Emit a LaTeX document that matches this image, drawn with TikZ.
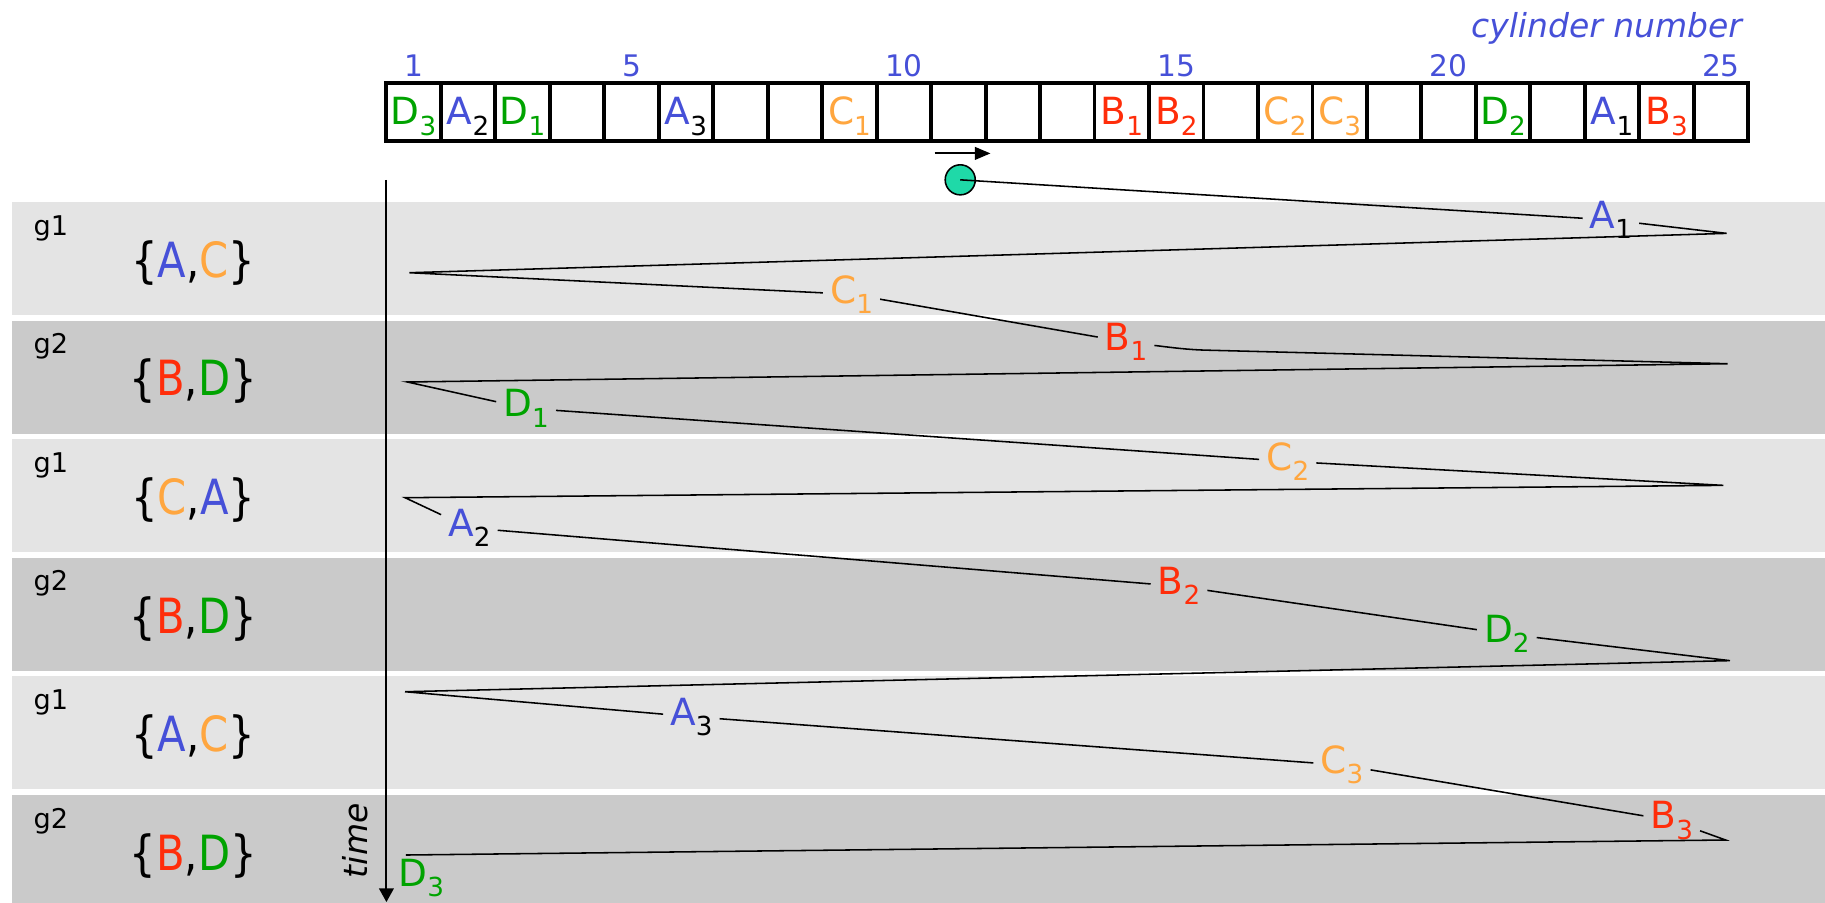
\documentclass[tikz,border=0pt]{standalone}
\usepackage{fontspec}
\setmainfont{DejaVu Sans}
\newfontfamily\narrowfont{DejaVu Sans}[FakeStretch=0.86]
\usetikzlibrary{positioning,arrows.meta}

\definecolor{bandlight}{HTML}{E4E4E4}
\definecolor{banddark}{HTML}{CACACA}
\definecolor{reqA}{HTML}{4650D8}
\definecolor{reqB}{HTML}{FF2D0A}
\definecolor{reqC}{HTML}{FFA63F}
\definecolor{reqD}{HTML}{00A300}
\colorlet{subA}{black}
\colorlet{subB}{reqB}
\colorlet{subC}{reqC}
\colorlet{subD}{reqD}
\definecolor{headfill}{HTML}{1FD9A8}

% request label: letter + subscripted index
\newcommand{\req}[2]{\textcolor{req#1}{#1}\raisebox{-0.27em}{\fontsize{13.5}{14}\selectfont\textcolor{sub#1}{#2}}}
\newcommand{\pairset}[2]{\{\textcolor{req#1}{#1},\textcolor{req#2}{#2}\}}

\begin{document}
\begin{tikzpicture}[
    x=0.6pt, y=-0.6pt,
    cell/.style={draw, line width=2pt, minimum width=28.08pt, minimum height=30pt, inner sep=0pt},
    celltxt/.style={font=\fontsize{19.3}{20}\selectfont, text height=14.5pt, text depth=0.9pt, inner sep=0pt},
    cylnum/.style={font=\fontsize{15.3}{16}\selectfont, text=reqA, inner sep=0pt},
    axislab/.style={font=\fontsize{17}{18}\selectfont\itshape, inner sep=0pt},
    grplab/.style={font=\fontsize{14}{15}\selectfont, inner sep=0pt},
    setlab/.style={font=\narrowfont\fontsize{25}{26}\selectfont, inner sep=0pt},
    reqlab/.style={font=\fontsize{19.3}{20}\selectfont, inner xsep=3.5pt, inner ysep=1pt},
    sweep/.style={line width=0.8pt},
    headdot/.style={circle, draw, line width=0.8pt, fill=headfill, minimum size=15.5pt, inner sep=0pt}
]
\useasboundingbox (0,0) rectangle (1568,775);

% time slots, one band per group
\foreach \i/\col/\g/\a/\b in {0/bandlight/g1/A/C, 1/banddark/g2/B/D, 2/bandlight/g1/C/A,
                              3/banddark/g2/B/D, 4/bandlight/g1/A/C, 5/banddark/g2/B/D}{
  \fill[\col] (10,{173.6+101.9*\i}) rectangle (1568,{270.6+101.9*\i});
  \node[grplab, anchor=base west] (grp\i) at (28.6,{202+101.9*\i}) {\g};
  \node[setlab, anchor=base] (set\i) at (166,{238.3+101.9*\i}) {\pairset{\a}{\b}};
}

% cylinders
\foreach \k in {1,...,25}
  \node[cell] (cyl\k) at ({308.6+46.8*\k},96) {};
\foreach \k/\who/\idx in {1/D/3, 2/A/2, 3/D/1, 6/A/3, 9/C/1, 14/B/1, 15/B/2,
                          17/C/2, 18/C/3, 21/D/2, 23/A/1, 24/B/3}
  \node[celltxt] (lab\k) at (cyl\k) {\req{\who}{\idx}};
\foreach \k in {1,5,10,15,20,25}
  \node[cylnum, above=2pt of cyl\k] (num\k) {\k};
\node[axislab, text=reqA, anchor=base east] (cylname) at (1497,32) {cylinder number};

% head and its direction
\coordinate (dirL) at (803,131.8);
\coordinate (dirR) at (851,131.8);
\draw[line width=1pt, -{Triangle[length=8pt,width=6.5pt]}] (dirL) -- (dirR);
\node[headdot] (head) at (825,154.5) {};

% time axis
\coordinate (ttop) at (332,154.6);
\coordinate (tbot) at (332,775);
\draw[line width=1pt, -{Triangle[length=7pt,width=7.5pt]}] (ttop) -- (tbot);
\node[axislab, rotate=90, anchor=base] (timelab) at (316,722.4) {time};

% requests served
\node[reqlab] (A1) at (1384,189) {\req{A}{1}};
\node[reqlab] (C1) at (731.6,252.8) {\req{C}{1}};
\node[reqlab] (B1) at (967.5,293.8) {\req{B}{1}};
\node[reqlab] (D1) at (452,350.8) {\req{D}{1}};
\node[reqlab] (C2) at (1106.4,396.4) {\req{C}{2}};
\node[reqlab] (A2) at (403.3,453.6) {\req{A}{2}};
\node[reqlab] (B2) at (1013,503.7) {\req{B}{2}};
\node[reqlab] (D2) at (1294.6,544.7) {\req{D}{2}};
\node[reqlab] (A3) at (594,615.7) {\req{A}{3}};
\node[reqlab] (C3) at (1153,657.3) {\req{C}{3}};
\node[reqlab] (B3) at (1436.3,705) {\req{B}{3}};
\node[reqlab, inner ysep=0pt] (D3) at (362,754.5) {\req{D}{3}};

% turning points of the sweep
\coordinate (r1) at (1483.5,200.5);
\coordinate (l1) at (351.7,234.3);
\coordinate (r2) at (1484.3,312.5);
\coordinate (l2) at (350,328.2);
\coordinate (r3) at (1480.6,417);
\coordinate (l3) at (348,427.6);
\coordinate (r4) at (1486.3,567.6);
\coordinate (l4) at (348,594.3);
\coordinate (r5) at (1482.6,721.7);
\coordinate (l5) at (348.8,734.6);

\draw[sweep] (head.center) -- (A1) -- (r1) -- (l1) -- (C1) -- (B1)
  .. controls (1010,299) and (1020,300.3) .. (1035,300.8) -- (r2) -- (l2)
  -- (D1) -- (C2) -- (r3) -- (l3) -- (A2) -- (B2) -- (D2) -- (r4) -- (l4)
  -- (A3) -- (C3) -- (B3) -- (r5) -- (l5);
\end{tikzpicture}
\end{document}
